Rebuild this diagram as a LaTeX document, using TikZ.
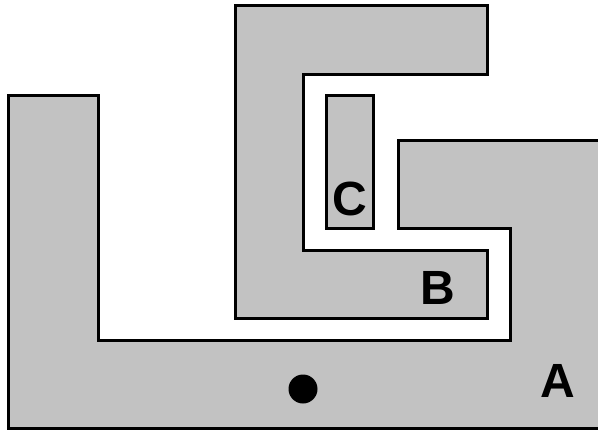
\documentclass[tikz,border=0pt]{standalone}
\usepackage{fontspec}
\setmainfont{Liberation Sans}
\begin{document}
\begin{tikzpicture}[x=1pt,y=-1pt,
  region/.style={fill=black!24,draw=none},
  edge/.style={draw=black,line width=3pt,line join=miter},
  lab/.style={font=\fontsize{48}{48}\selectfont\bfseries,inner sep=0pt}]
\useasboundingbox (0,0) rectangle (598,431);
% region A
\fill[region] (598,140)--(398,140)--(398,228)--(510,228)--(510,340)--(98,340)--(98,95)--(8,95)--(8,428)--(598,428)--cycle;
\draw[edge] (598,140)--(398,140)--(398,228)--(510,228)--(510,340)--(98,340)--(98,95)--(8,95)--(8,428)--(598,428);
% region B
\filldraw[region,edge] (235,5)--(487,5)--(487,74)--(303,74)--(303,250)--(487,250)--(487,318)--(235,318)--cycle;
% region C
\filldraw[region,edge] (326,95) rectangle (373,228);
% labels
\node[lab] (labC) at (350,199) {C};
\node[lab] (labB) at (438,288) {B};
\node[lab] (labA) at (558,381) {A};
\fill (303,389) circle (14.5);
\node[inner sep=0pt,minimum size=0pt] (dot) at (303,389) {};
\end{tikzpicture}
\end{document}
